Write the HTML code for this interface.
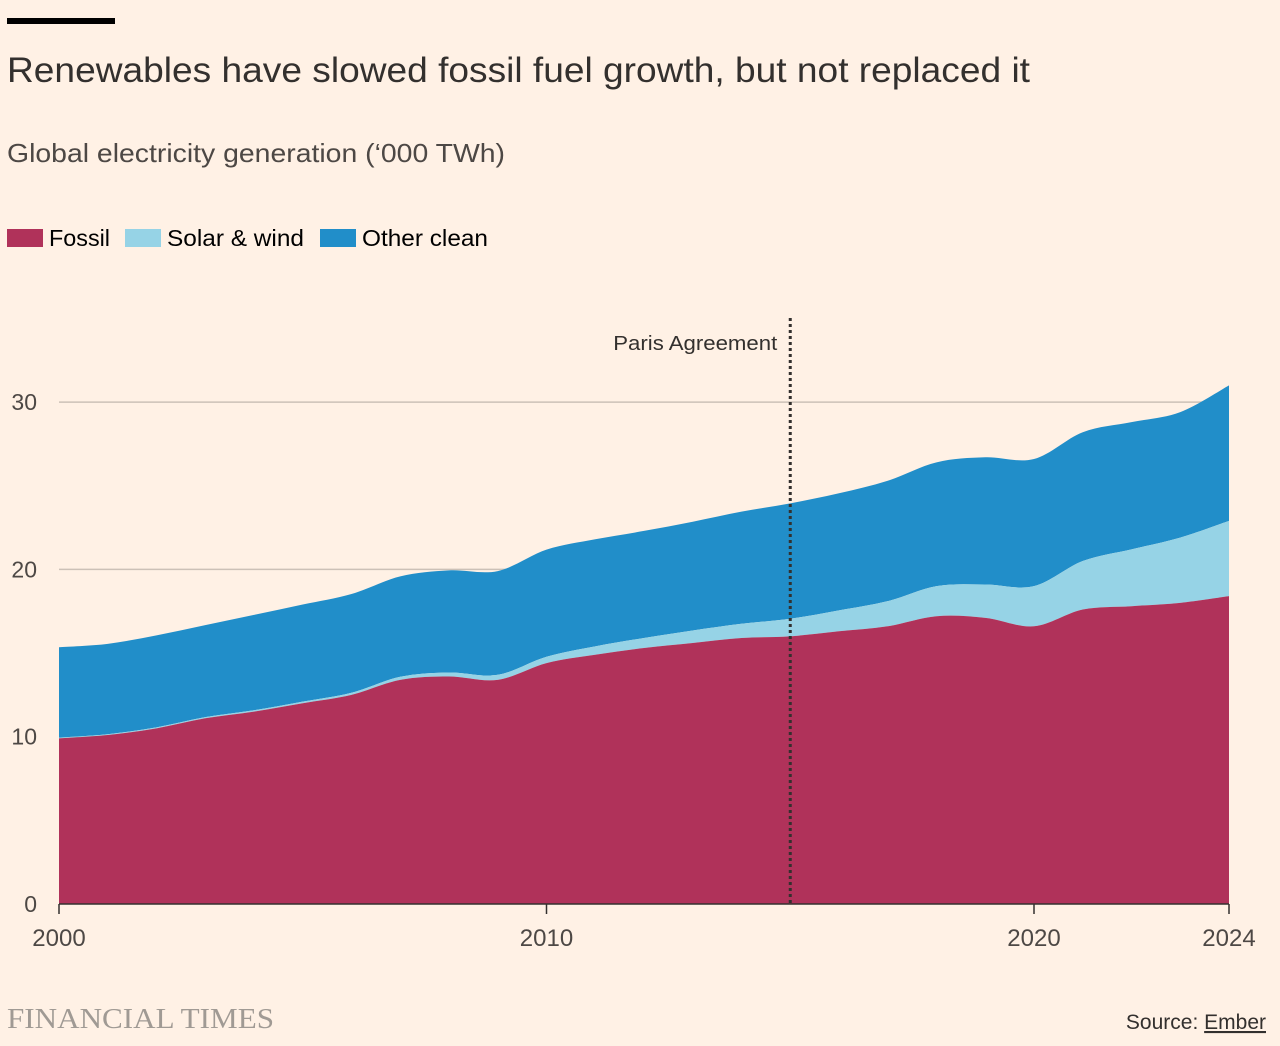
<!DOCTYPE html>
<html><head><meta charset="utf-8"><style>
body{margin:0;background:#fff1e5;width:1280px;height:1046px;overflow:hidden;font-family:"Liberation Sans",sans-serif;color:#33302e}
svg{position:absolute;left:0;top:0}
</style></head><body>
<svg id="c" width="1280" height="1046">
<rect x="7" y="18" width="108" height="6" fill="#000"/>
<text x="7" y="82" font-size="35" fill="#33302e" textLength="1023" lengthAdjust="spacingAndGlyphs">Renewables have slowed fossil fuel growth, but not replaced it</text>
<text x="7" y="162" font-size="26" fill="#4d4845" textLength="498" lengthAdjust="spacingAndGlyphs">Global electricity generation (‘000 TWh)</text>
<g>
<rect x="7" y="229" width="36" height="18" fill="#b0325a"/>
<text x="49" y="246" font-size="23" textLength="61" lengthAdjust="spacingAndGlyphs">Fossil</text>
<rect x="125" y="229" width="36" height="18" fill="#96d3e6"/>
<text x="167" y="246" font-size="23" textLength="137" lengthAdjust="spacingAndGlyphs">Solar &amp; wind</text>
<rect x="320" y="229" width="36" height="18" fill="#218ec9"/>
<text x="362" y="246" font-size="23" textLength="126" lengthAdjust="spacingAndGlyphs">Other clean</text>
</g>
<g id="grid"></g><g id="areas"></g><g id="axes"></g>
<text x="7" y="1028" font-size="29" font-family="Liberation Serif,serif" fill="#a09a94" textLength="267" lengthAdjust="spacingAndGlyphs">FINANCIAL TIMES</text>
<text x="1266" y="1029" font-size="21" text-anchor="end" fill="#33302e">Source: <tspan text-decoration="underline">Ember</tspan></text>
</svg>
<script>
const years=[2000,2001,2002,2003,2004,2005,2006,2007,2008,2009,2010,2011,2012,2013,2014,2015,2016,2017,2018,2019,2020,2021,2022,2023,2024];
const fossil=[9.9,10.1,10.5,11.1,11.5,12.0,12.5,13.4,13.6,13.4,14.4,14.9,15.3,15.6,15.9,16.0,16.3,16.6,17.2,17.1,16.6,17.6,17.8,18.0,18.4];
const solarWind=[0.05,0.05,0.06,0.07,0.08,0.1,0.13,0.18,0.24,0.3,0.38,0.5,0.6,0.75,0.85,1.05,1.25,1.5,1.8,2.0,2.4,2.9,3.4,3.9,4.5];
const otherClean=[5.4,5.4,5.5,5.5,5.7,5.8,5.9,6.0,6.1,6.2,6.4,6.4,6.4,6.5,6.7,6.9,7.0,7.2,7.4,7.6,7.6,7.7,7.6,7.5,8.1];
const yTicks=[0,10,20,30];
const xTicks=[2000,2010,2020,2024];
const x=v=>59+(v-2000)*(1170/24);
const y=v=>904-v*16.73;
const NS="http://www.w3.org/2000/svg";
function el(t,a,p){const e=document.createElementNS(NS,t);for(const k in a)e.setAttribute(k,a[k]);document.getElementById(p).appendChild(e);return e;}
function curve(pts){let d="";for(let i=0;i<pts.length-1;i++){const p0=pts[Math.max(0,i-1)],p1=pts[i],p2=pts[i+1],p3=pts[Math.min(pts.length-1,i+2)];const c1=[p1[0]+(p2[0]-p0[0])/6,p1[1]+(p2[1]-p0[1])/6],c2=[p2[0]-(p3[0]-p1[0])/6,p2[1]-(p3[1]-p1[1])/6];d+=`C${c1[0]},${c1[1]} ${c2[0]},${c2[1]} ${p2[0]},${p2[1]}`;}return d;}
function band(lo,hi){const top=years.map((yr,i)=>[x(yr),y(hi[i])]);const bot=years.map((yr,i)=>[x(yr),y(lo[i])]).reverse();return `M${top[0]}`+curve(top)+`L${bot[0]}`+curve(bot)+"Z";}
const zero=years.map(()=>0);
const s1=fossil.map((v,i)=>v+solarWind[i]);
const s2=s1.map((v,i)=>v+otherClean[i]);
yTicks.forEach(t=>{if(t>0){const l=el("line",{x1:59,x2:1229,y1:y(t),y2:y(t),stroke:"#ccc1b7","stroke-width":1.5},"grid");

}
const tx=el("text",{x:37,y:y(t)+8,"font-size":23,"text-anchor":"end",fill:"#4d4845"},"axes");tx.textContent=t;

});
const a1=el("path",{d:band(s1,s2),fill:"#218ec9"},"areas");


const a2=el("path",{d:band(fossil,s1),fill:"#96d3e6"},"areas");


const a3=el("path",{d:band(zero,fossil),fill:"#b0325a"},"areas");


const ax=el("line",{x1:59,x2:1229,y1:904,y2:904,stroke:"#33302e","stroke-width":1.5},"axes");


xTicks.forEach(t=>{const l=el("line",{x1:x(t),x2:x(t),y1:904,y2:914,stroke:"#33302e","stroke-width":1.5},"axes");


const tx=el("text",{x:x(t),y:946,"font-size":24,"text-anchor":"middle",fill:"#4d4845"},"axes");tx.textContent=t;

});
const pl=el("line",{x1:x(2015),x2:x(2015),y1:318,y2:904,stroke:"#33302e","stroke-width":3,"stroke-dasharray":"3,3"},"axes");


const pt=el("text",{x:x(2015)-13,y:350,"font-size":20,"text-anchor":"end",fill:"#33302e",textLength:164,lengthAdjust:"spacingAndGlyphs"},"axes");pt.textContent="Paris Agreement";


</script>
</body></html>
